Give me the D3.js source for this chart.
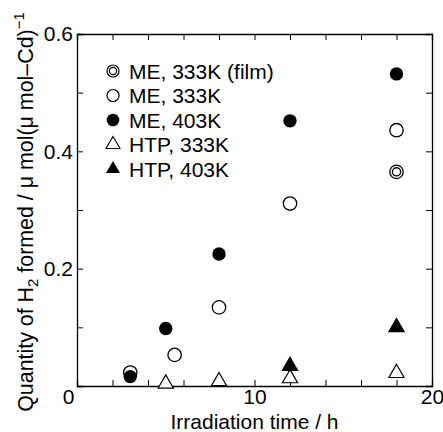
<html>
<head>
    <meta charset="utf-8">
    <title>H2 formed vs irradiation time</title>
    <script src="https://cdn.jsdelivr.net/npm/d3@7"></script>
    <style>
        body { margin: 0; background: #fff; }
        text { font-family: "Liberation Sans", Arial, sans-serif; fill: #000; }
    </style>
</head>
<body>
<svg id="chart"></svg>
<script>
    // data
    const legendLabels = ['ME, 333K (film)', 'ME, 333K', 'ME, 403K', 'HTP, 333K', 'HTP, 403K'];

    const filmX = [18];
    const filmY = [0.365];
    const me333X = [3, 5.5, 8, 12, 18];
    const me333Y = [0.023, 0.053, 0.134, 0.311, 0.436];
    const me403X = [3, 5, 8, 12, 18];
    const me403Y = [0.016, 0.098, 0.225, 0.452, 0.532];
    const htp333X = [5, 8, 12, 18];
    const htp333Y = [0.004, 0.008, 0.013, 0.022];
    const htp403X = [12, 18];
    const htp403Y = [0.034, 0.100];

    const xTicks = [0, 2, 4, 6, 8, 10, 12, 14, 16, 18, 20];
    const xLabels = [0, 10, 20];
    const yTicks = [0, 0.1, 0.2, 0.3, 0.4, 0.5, 0.6];
    const yLabels = [0.2, 0.4, 0.6];

    const W = 443, H = 432;
    const margin = {top: 34, right: 11, bottom: 46, left: 77};

    const svg = d3.select('#chart')
        .attr('width', W)
        .attr('height', H);

    const x = d3.scaleLinear().domain([0, 20]).range([margin.left, W - margin.right]);
    const y = d3.scaleLinear().domain([0, 0.6]).range([H - margin.bottom, margin.top]);

    const fs = 21;

    // inward ticks on all four sides
    const tick = 6;
    svg.append('g')
        .attr('transform', `translate(0,${y(0)})`)
        .call(d3.axisBottom(x).tickValues(xTicks).tickSize(-tick).tickFormat(''));
    svg.append('g')
        .attr('transform', `translate(0,${y(0.6)})`)
        .call(d3.axisTop(x).tickValues(xTicks).tickSize(-tick).tickFormat(''));
    svg.append('g')
        .attr('transform', `translate(${x(0)},0)`)
        .call(d3.axisLeft(y).tickValues(yTicks).tickSize(-tick).tickFormat(''));
    svg.append('g')
        .attr('transform', `translate(${x(20)},0)`)
        .call(d3.axisRight(y).tickValues(yTicks).tickSize(-tick).tickFormat(''));
    svg.selectAll('.domain').attr('stroke', '#000').attr('stroke-width', 1.3);
    svg.selectAll('.tick line').attr('stroke', '#000').attr('stroke-width', 1);

    // tick labels
    const xl = svg.append('g')
        .attr('transform', `translate(0,${y(0)})`)
        .call(d3.axisBottom(x).tickValues(xLabels).tickSize(0).tickPadding(3).tickFormat(d3.format('d')));
    xl.select('.domain').remove();
    xl.selectAll('text').attr('font-size', fs).attr('font-family', null)
        .attr('dx', d => d === 0 ? -9 : 0);

    const yl = svg.append('g')
        .attr('transform', `translate(${x(0)},0)`)
        .call(d3.axisLeft(y).tickValues(yLabels).tickSize(0).tickPadding(4).tickFormat(d3.format('.1f')));
    yl.select('.domain').remove();
    yl.selectAll('text').attr('font-size', fs).attr('font-family', null);

    // axis titles
    svg.append('text')
        .attr('x', (x(0) + x(20)) / 2)
        .attr('y', 429)
        .attr('text-anchor', 'middle')
        .attr('font-size', fs)
        .text('Irradiation time / h');

    const yt = svg.append('text')
        .attr('transform', `translate(33,${(y(0) + y(0.6)) / 2 + 2}) rotate(-90)`)
        .attr('text-anchor', 'middle')
        .attr('font-size', 21.4);
    yt.append('tspan').text('Quantity of H');
    yt.append('tspan').attr('font-size', 15).attr('dy', 5).text('2');
    yt.append('tspan').attr('dy', -5).text(' formed / \u03bc mol(\u03bc mol\u2013Cd)');
    yt.append('tspan').attr('font-size', 15).attr('dy', -9).text('\u22121');

    // markers
    const triangle = d3.symbol().type(d3.symbolTriangle).size(100);
    const r = 6.7;

    function openCircles(g, xs, ys) {
        g.selectAll(null).data(xs).enter().append('circle')
            .attr('cx', d => x(d)).attr('cy', (d, i) => y(ys[i])).attr('r', r)
            .attr('fill', '#fff').attr('stroke', '#000').attr('stroke-width', 1.3);
    }
    function filmCircles(g, xs, ys) {
        openCircles(g, xs, ys);
        g.selectAll(null).data(xs).enter().append('circle')
            .attr('cx', d => x(d)).attr('cy', (d, i) => y(ys[i])).attr('r', r - 2.6)
            .attr('fill', 'none').attr('stroke', '#000').attr('stroke-width', 1.3);
    }
    function filledCircles(g, xs, ys) {
        g.selectAll(null).data(xs).enter().append('circle')
            .attr('cx', d => x(d)).attr('cy', (d, i) => y(ys[i])).attr('r', r)
            .attr('fill', '#000');
    }
    function triangles(g, xs, ys, filled) {
        g.selectAll(null).data(xs).enter().append('path')
            .attr('d', triangle)
            .attr('transform', (d, i) => `translate(${x(d)},${y(ys[i])})`)
            .attr('fill', filled ? '#000' : '#fff')
            .attr('stroke', '#000').attr('stroke-width', 1.2);
    }

    const marks = svg.append('g');
    triangles(marks, htp333X, htp333Y, false);
    triangles(marks, htp403X, htp403Y, true);
    openCircles(marks, me333X, me333Y);
    filmCircles(marks, filmX, filmY);
    filledCircles(marks, me403X, me403Y);

    // legend
    const lg = svg.append('g');
    const lx = 113, ly0 = 71, dy = 24.5;
    const drawers = [
        (g, cx, cy) => { g.append('circle').attr('cx', cx).attr('cy', cy).attr('r', 6).attr('fill', '#fff').attr('stroke', '#000').attr('stroke-width', 1.2);
                         g.append('circle').attr('cx', cx).attr('cy', cy).attr('r', 3.6).attr('fill', 'none').attr('stroke', '#000').attr('stroke-width', 1.2); },
        (g, cx, cy) => g.append('circle').attr('cx', cx).attr('cy', cy).attr('r', 6).attr('fill', '#fff').attr('stroke', '#000').attr('stroke-width', 1.2),
        (g, cx, cy) => g.append('circle').attr('cx', cx).attr('cy', cy).attr('r', 6.3).attr('fill', '#000'),
        (g, cx, cy) => g.append('path').attr('d', d3.symbol().type(d3.symbolTriangle).size(85)).attr('transform', `translate(${cx},${cy})`).attr('fill', '#fff').attr('stroke', '#000').attr('stroke-width', 1.1),
        (g, cx, cy) => g.append('path').attr('d', d3.symbol().type(d3.symbolTriangle).size(85)).attr('transform', `translate(${cx},${cy})`).attr('fill', '#000')
    ];
    legendLabels.forEach((lab, i) => {
        const cy = ly0 + i * dy;
        drawers[i](lg, lx, cy);
        lg.append('text')
            .attr('x', 129)
            .attr('y', cy + 7.5)
            .attr('font-size', fs)
            .text(lab);
    });
</script>
</body>
</html>
